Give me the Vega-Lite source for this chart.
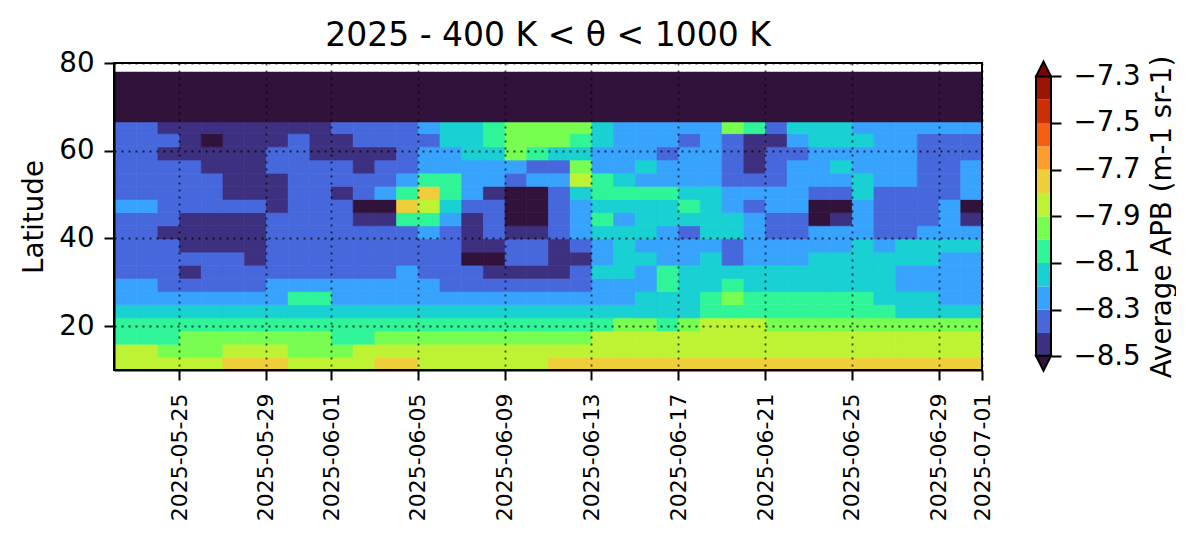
{"$schema":"https://vega.github.io/schema/vega-lite/v6.json","background":"white","padding":{"left":20,"top":20,"right":0,"bottom":0},"spacing":39,
"config":{"font":"DejaVu Sans","view":{"stroke":null},"axis":{"labelFontSize":27.7,"titleFontSize":27.7,"titleFontWeight":"normal","tickSize":10,"tickWidth":2,"tickColor":"black","domainColor":"black","domainWidth":2,"labelColor":"black","titleColor":"black"}},
"hconcat":[
{"width":868,"height":307,"title":{"text":"2025 - 400 K < θ < 1000 K","fontSize":33,"fontWeight":"normal","color":"black","offset":-4},
"layer":[
{"data":{"values":[
{"d":"2025-05-22","l":11.5,"v":-7.85},{"d":"2025-05-23","l":11.5,"v":-7.85},{"d":"2025-05-24","l":11.5,"v":-7.85},{"d":"2025-05-25","l":11.5,"v":-7.85},{"d":"2025-05-26","l":11.5,"v":-7.85},{"d":"2025-05-27","l":11.5,"v":-7.75},{"d":"2025-05-28","l":11.5,"v":-7.75},{"d":"2025-05-29","l":11.5,"v":-7.75},{"d":"2025-05-30","l":11.5,"v":-7.85},{"d":"2025-05-31","l":11.5,"v":-7.85},{"d":"2025-06-01","l":11.5,"v":-7.85},{"d":"2025-06-02","l":11.5,"v":-7.85},{"d":"2025-06-03","l":11.5,"v":-7.75},{"d":"2025-06-04","l":11.5,"v":-7.75},{"d":"2025-06-05","l":11.5,"v":-7.85},{"d":"2025-06-06","l":11.5,"v":-7.85},{"d":"2025-06-07","l":11.5,"v":-7.85},{"d":"2025-06-08","l":11.5,"v":-7.85},{"d":"2025-06-09","l":11.5,"v":-7.85},{"d":"2025-06-10","l":11.5,"v":-7.85},{"d":"2025-06-11","l":11.5,"v":-7.75},{"d":"2025-06-12","l":11.5,"v":-7.75},{"d":"2025-06-13","l":11.5,"v":-7.75},{"d":"2025-06-14","l":11.5,"v":-7.75},{"d":"2025-06-15","l":11.5,"v":-7.75},{"d":"2025-06-16","l":11.5,"v":-7.75},{"d":"2025-06-17","l":11.5,"v":-7.75},{"d":"2025-06-18","l":11.5,"v":-7.75},{"d":"2025-06-19","l":11.5,"v":-7.75},{"d":"2025-06-20","l":11.5,"v":-7.75},{"d":"2025-06-21","l":11.5,"v":-7.75},{"d":"2025-06-22","l":11.5,"v":-7.75},{"d":"2025-06-23","l":11.5,"v":-7.75},{"d":"2025-06-24","l":11.5,"v":-7.75},{"d":"2025-06-25","l":11.5,"v":-7.75},{"d":"2025-06-26","l":11.5,"v":-7.75},{"d":"2025-06-27","l":11.5,"v":-7.75},{"d":"2025-06-28","l":11.5,"v":-7.75},{"d":"2025-06-29","l":11.5,"v":-7.75},{"d":"2025-06-30","l":11.5,"v":-7.75},
{"d":"2025-05-22","l":14.5,"v":-7.85},{"d":"2025-05-23","l":14.5,"v":-7.85},{"d":"2025-05-24","l":14.5,"v":-7.95},{"d":"2025-05-25","l":14.5,"v":-7.95},{"d":"2025-05-26","l":14.5,"v":-7.95},{"d":"2025-05-27","l":14.5,"v":-7.85},{"d":"2025-05-28","l":14.5,"v":-7.85},{"d":"2025-05-29","l":14.5,"v":-7.85},{"d":"2025-05-30","l":14.5,"v":-7.95},{"d":"2025-05-31","l":14.5,"v":-7.95},{"d":"2025-06-01","l":14.5,"v":-7.95},{"d":"2025-06-02","l":14.5,"v":-7.85},{"d":"2025-06-03","l":14.5,"v":-7.85},{"d":"2025-06-04","l":14.5,"v":-7.85},{"d":"2025-06-05","l":14.5,"v":-7.85},{"d":"2025-06-06","l":14.5,"v":-7.85},{"d":"2025-06-07","l":14.5,"v":-7.85},{"d":"2025-06-08","l":14.5,"v":-7.85},{"d":"2025-06-09","l":14.5,"v":-7.85},{"d":"2025-06-10","l":14.5,"v":-7.85},{"d":"2025-06-11","l":14.5,"v":-7.85},{"d":"2025-06-12","l":14.5,"v":-7.85},{"d":"2025-06-13","l":14.5,"v":-7.85},{"d":"2025-06-14","l":14.5,"v":-7.85},{"d":"2025-06-15","l":14.5,"v":-7.85},{"d":"2025-06-16","l":14.5,"v":-7.85},{"d":"2025-06-17","l":14.5,"v":-7.85},{"d":"2025-06-18","l":14.5,"v":-7.85},{"d":"2025-06-19","l":14.5,"v":-7.85},{"d":"2025-06-20","l":14.5,"v":-7.85},{"d":"2025-06-21","l":14.5,"v":-7.85},{"d":"2025-06-22","l":14.5,"v":-7.85},{"d":"2025-06-23","l":14.5,"v":-7.85},{"d":"2025-06-24","l":14.5,"v":-7.85},{"d":"2025-06-25","l":14.5,"v":-7.85},{"d":"2025-06-26","l":14.5,"v":-7.85},{"d":"2025-06-27","l":14.5,"v":-7.85},{"d":"2025-06-28","l":14.5,"v":-7.85},{"d":"2025-06-29","l":14.5,"v":-7.85},{"d":"2025-06-30","l":14.5,"v":-7.85},
{"d":"2025-05-22","l":17.5,"v":-8.05},{"d":"2025-05-23","l":17.5,"v":-8.05},{"d":"2025-05-24","l":17.5,"v":-8.05},{"d":"2025-05-25","l":17.5,"v":-7.95},{"d":"2025-05-26","l":17.5,"v":-7.95},{"d":"2025-05-27","l":17.5,"v":-7.95},{"d":"2025-05-28","l":17.5,"v":-7.95},{"d":"2025-05-29","l":17.5,"v":-7.95},{"d":"2025-05-30","l":17.5,"v":-7.95},{"d":"2025-05-31","l":17.5,"v":-7.95},{"d":"2025-06-01","l":17.5,"v":-8.05},{"d":"2025-06-02","l":17.5,"v":-8.05},{"d":"2025-06-03","l":17.5,"v":-7.95},{"d":"2025-06-04","l":17.5,"v":-7.95},{"d":"2025-06-05","l":17.5,"v":-7.95},{"d":"2025-06-06","l":17.5,"v":-7.95},{"d":"2025-06-07","l":17.5,"v":-7.95},{"d":"2025-06-08","l":17.5,"v":-7.95},{"d":"2025-06-09","l":17.5,"v":-7.95},{"d":"2025-06-10","l":17.5,"v":-7.95},{"d":"2025-06-11","l":17.5,"v":-7.95},{"d":"2025-06-12","l":17.5,"v":-7.95},{"d":"2025-06-13","l":17.5,"v":-7.85},{"d":"2025-06-14","l":17.5,"v":-7.85},{"d":"2025-06-15","l":17.5,"v":-7.85},{"d":"2025-06-16","l":17.5,"v":-7.85},{"d":"2025-06-17","l":17.5,"v":-7.85},{"d":"2025-06-18","l":17.5,"v":-7.85},{"d":"2025-06-19","l":17.5,"v":-7.85},{"d":"2025-06-20","l":17.5,"v":-7.85},{"d":"2025-06-21","l":17.5,"v":-7.85},{"d":"2025-06-22","l":17.5,"v":-7.85},{"d":"2025-06-23","l":17.5,"v":-7.85},{"d":"2025-06-24","l":17.5,"v":-7.85},{"d":"2025-06-25","l":17.5,"v":-7.85},{"d":"2025-06-26","l":17.5,"v":-7.85},{"d":"2025-06-27","l":17.5,"v":-7.85},{"d":"2025-06-28","l":17.5,"v":-7.85},{"d":"2025-06-29","l":17.5,"v":-7.85},{"d":"2025-06-30","l":17.5,"v":-7.85},
{"d":"2025-05-22","l":20.5,"v":-8.05},{"d":"2025-05-23","l":20.5,"v":-8.05},{"d":"2025-05-24","l":20.5,"v":-8.05},{"d":"2025-05-25","l":20.5,"v":-8.05},{"d":"2025-05-26","l":20.5,"v":-8.05},{"d":"2025-05-27","l":20.5,"v":-8.05},{"d":"2025-05-28","l":20.5,"v":-8.05},{"d":"2025-05-29","l":20.5,"v":-8.05},{"d":"2025-05-30","l":20.5,"v":-8.05},{"d":"2025-05-31","l":20.5,"v":-8.05},{"d":"2025-06-01","l":20.5,"v":-8.05},{"d":"2025-06-02","l":20.5,"v":-8.05},{"d":"2025-06-03","l":20.5,"v":-8.05},{"d":"2025-06-04","l":20.5,"v":-8.05},{"d":"2025-06-05","l":20.5,"v":-8.05},{"d":"2025-06-06","l":20.5,"v":-8.05},{"d":"2025-06-07","l":20.5,"v":-8.05},{"d":"2025-06-08","l":20.5,"v":-8.05},{"d":"2025-06-09","l":20.5,"v":-8.05},{"d":"2025-06-10","l":20.5,"v":-8.05},{"d":"2025-06-11","l":20.5,"v":-8.05},{"d":"2025-06-12","l":20.5,"v":-8.05},{"d":"2025-06-13","l":20.5,"v":-8.05},{"d":"2025-06-14","l":20.5,"v":-7.95},{"d":"2025-06-15","l":20.5,"v":-7.95},{"d":"2025-06-16","l":20.5,"v":-8.05},{"d":"2025-06-17","l":20.5,"v":-7.95},{"d":"2025-06-18","l":20.5,"v":-7.85},{"d":"2025-06-19","l":20.5,"v":-7.85},{"d":"2025-06-20","l":20.5,"v":-7.85},{"d":"2025-06-21","l":20.5,"v":-7.95},{"d":"2025-06-22","l":20.5,"v":-7.95},{"d":"2025-06-23","l":20.5,"v":-7.95},{"d":"2025-06-24","l":20.5,"v":-7.95},{"d":"2025-06-25","l":20.5,"v":-7.95},{"d":"2025-06-26","l":20.5,"v":-7.95},{"d":"2025-06-27","l":20.5,"v":-7.95},{"d":"2025-06-28","l":20.5,"v":-7.95},{"d":"2025-06-29","l":20.5,"v":-7.95},{"d":"2025-06-30","l":20.5,"v":-7.95},
{"d":"2025-05-22","l":23.5,"v":-8.15},{"d":"2025-05-23","l":23.5,"v":-8.15},{"d":"2025-05-24","l":23.5,"v":-8.15},{"d":"2025-05-25","l":23.5,"v":-8.15},{"d":"2025-05-26","l":23.5,"v":-8.15},{"d":"2025-05-27","l":23.5,"v":-8.15},{"d":"2025-05-28","l":23.5,"v":-8.15},{"d":"2025-05-29","l":23.5,"v":-8.15},{"d":"2025-05-30","l":23.5,"v":-8.15},{"d":"2025-05-31","l":23.5,"v":-8.15},{"d":"2025-06-01","l":23.5,"v":-8.15},{"d":"2025-06-02","l":23.5,"v":-8.15},{"d":"2025-06-03","l":23.5,"v":-8.15},{"d":"2025-06-04","l":23.5,"v":-8.15},{"d":"2025-06-05","l":23.5,"v":-8.15},{"d":"2025-06-06","l":23.5,"v":-8.15},{"d":"2025-06-07","l":23.5,"v":-8.15},{"d":"2025-06-08","l":23.5,"v":-8.15},{"d":"2025-06-09","l":23.5,"v":-8.15},{"d":"2025-06-10","l":23.5,"v":-8.15},{"d":"2025-06-11","l":23.5,"v":-8.15},{"d":"2025-06-12","l":23.5,"v":-8.15},{"d":"2025-06-13","l":23.5,"v":-8.15},{"d":"2025-06-14","l":23.5,"v":-8.15},{"d":"2025-06-15","l":23.5,"v":-8.15},{"d":"2025-06-16","l":23.5,"v":-8.15},{"d":"2025-06-17","l":23.5,"v":-8.15},{"d":"2025-06-18","l":23.5,"v":-8.05},{"d":"2025-06-19","l":23.5,"v":-8.05},{"d":"2025-06-20","l":23.5,"v":-8.05},{"d":"2025-06-21","l":23.5,"v":-8.05},{"d":"2025-06-22","l":23.5,"v":-8.05},{"d":"2025-06-23","l":23.5,"v":-8.05},{"d":"2025-06-24","l":23.5,"v":-8.05},{"d":"2025-06-25","l":23.5,"v":-8.05},{"d":"2025-06-26","l":23.5,"v":-8.05},{"d":"2025-06-27","l":23.5,"v":-8.15},{"d":"2025-06-28","l":23.5,"v":-8.15},{"d":"2025-06-29","l":23.5,"v":-8.15},{"d":"2025-06-30","l":23.5,"v":-8.15},
{"d":"2025-05-22","l":26.5,"v":-8.25},{"d":"2025-05-23","l":26.5,"v":-8.25},{"d":"2025-05-24","l":26.5,"v":-8.25},{"d":"2025-05-25","l":26.5,"v":-8.25},{"d":"2025-05-26","l":26.5,"v":-8.25},{"d":"2025-05-27","l":26.5,"v":-8.25},{"d":"2025-05-28","l":26.5,"v":-8.25},{"d":"2025-05-29","l":26.5,"v":-8.25},{"d":"2025-05-30","l":26.5,"v":-8.05},{"d":"2025-05-31","l":26.5,"v":-8.05},{"d":"2025-06-01","l":26.5,"v":-8.25},{"d":"2025-06-02","l":26.5,"v":-8.25},{"d":"2025-06-03","l":26.5,"v":-8.25},{"d":"2025-06-04","l":26.5,"v":-8.25},{"d":"2025-06-05","l":26.5,"v":-8.25},{"d":"2025-06-06","l":26.5,"v":-8.25},{"d":"2025-06-07","l":26.5,"v":-8.25},{"d":"2025-06-08","l":26.5,"v":-8.25},{"d":"2025-06-09","l":26.5,"v":-8.25},{"d":"2025-06-10","l":26.5,"v":-8.25},{"d":"2025-06-11","l":26.5,"v":-8.25},{"d":"2025-06-12","l":26.5,"v":-8.25},{"d":"2025-06-13","l":26.5,"v":-8.25},{"d":"2025-06-14","l":26.5,"v":-8.25},{"d":"2025-06-15","l":26.5,"v":-8.15},{"d":"2025-06-16","l":26.5,"v":-8.15},{"d":"2025-06-17","l":26.5,"v":-8.15},{"d":"2025-06-18","l":26.5,"v":-8.05},{"d":"2025-06-19","l":26.5,"v":-7.95},{"d":"2025-06-20","l":26.5,"v":-8.05},{"d":"2025-06-21","l":26.5,"v":-8.05},{"d":"2025-06-22","l":26.5,"v":-8.05},{"d":"2025-06-23","l":26.5,"v":-8.05},{"d":"2025-06-24","l":26.5,"v":-8.05},{"d":"2025-06-25","l":26.5,"v":-8.05},{"d":"2025-06-26","l":26.5,"v":-8.15},{"d":"2025-06-27","l":26.5,"v":-8.15},{"d":"2025-06-28","l":26.5,"v":-8.15},{"d":"2025-06-29","l":26.5,"v":-8.25},{"d":"2025-06-30","l":26.5,"v":-8.25},
{"d":"2025-05-22","l":29.5,"v":-8.25},{"d":"2025-05-23","l":29.5,"v":-8.25},{"d":"2025-05-24","l":29.5,"v":-8.35},{"d":"2025-05-25","l":29.5,"v":-8.35},{"d":"2025-05-26","l":29.5,"v":-8.35},{"d":"2025-05-27","l":29.5,"v":-8.35},{"d":"2025-05-28","l":29.5,"v":-8.35},{"d":"2025-05-29","l":29.5,"v":-8.25},{"d":"2025-05-30","l":29.5,"v":-8.25},{"d":"2025-05-31","l":29.5,"v":-8.25},{"d":"2025-06-01","l":29.5,"v":-8.25},{"d":"2025-06-02","l":29.5,"v":-8.25},{"d":"2025-06-03","l":29.5,"v":-8.25},{"d":"2025-06-04","l":29.5,"v":-8.25},{"d":"2025-06-05","l":29.5,"v":-8.25},{"d":"2025-06-06","l":29.5,"v":-8.35},{"d":"2025-06-07","l":29.5,"v":-8.35},{"d":"2025-06-08","l":29.5,"v":-8.35},{"d":"2025-06-09","l":29.5,"v":-8.35},{"d":"2025-06-10","l":29.5,"v":-8.35},{"d":"2025-06-11","l":29.5,"v":-8.35},{"d":"2025-06-12","l":29.5,"v":-8.35},{"d":"2025-06-13","l":29.5,"v":-8.25},{"d":"2025-06-14","l":29.5,"v":-8.25},{"d":"2025-06-15","l":29.5,"v":-8.25},{"d":"2025-06-16","l":29.5,"v":-8.05},{"d":"2025-06-17","l":29.5,"v":-8.15},{"d":"2025-06-18","l":29.5,"v":-8.15},{"d":"2025-06-19","l":29.5,"v":-8.05},{"d":"2025-06-20","l":29.5,"v":-8.15},{"d":"2025-06-21","l":29.5,"v":-8.15},{"d":"2025-06-22","l":29.5,"v":-8.15},{"d":"2025-06-23","l":29.5,"v":-8.15},{"d":"2025-06-24","l":29.5,"v":-8.15},{"d":"2025-06-25","l":29.5,"v":-8.15},{"d":"2025-06-26","l":29.5,"v":-8.15},{"d":"2025-06-27","l":29.5,"v":-8.25},{"d":"2025-06-28","l":29.5,"v":-8.25},{"d":"2025-06-29","l":29.5,"v":-8.25},{"d":"2025-06-30","l":29.5,"v":-8.25},
{"d":"2025-05-22","l":32.5,"v":-8.35},{"d":"2025-05-23","l":32.5,"v":-8.35},{"d":"2025-05-24","l":32.5,"v":-8.35},{"d":"2025-05-25","l":32.5,"v":-8.45},{"d":"2025-05-26","l":32.5,"v":-8.35},{"d":"2025-05-27","l":32.5,"v":-8.35},{"d":"2025-05-28","l":32.5,"v":-8.35},{"d":"2025-05-29","l":32.5,"v":-8.35},{"d":"2025-05-30","l":32.5,"v":-8.35},{"d":"2025-05-31","l":32.5,"v":-8.35},{"d":"2025-06-01","l":32.5,"v":-8.35},{"d":"2025-06-02","l":32.5,"v":-8.35},{"d":"2025-06-03","l":32.5,"v":-8.35},{"d":"2025-06-04","l":32.5,"v":-8.25},{"d":"2025-06-05","l":32.5,"v":-8.35},{"d":"2025-06-06","l":32.5,"v":-8.35},{"d":"2025-06-07","l":32.5,"v":-8.35},{"d":"2025-06-08","l":32.5,"v":-8.45},{"d":"2025-06-09","l":32.5,"v":-8.45},{"d":"2025-06-10","l":32.5,"v":-8.45},{"d":"2025-06-11","l":32.5,"v":-8.45},{"d":"2025-06-12","l":32.5,"v":-8.35},{"d":"2025-06-13","l":32.5,"v":-8.15},{"d":"2025-06-14","l":32.5,"v":-8.15},{"d":"2025-06-15","l":32.5,"v":-8.25},{"d":"2025-06-16","l":32.5,"v":-8.05},{"d":"2025-06-17","l":32.5,"v":-8.15},{"d":"2025-06-18","l":32.5,"v":-8.15},{"d":"2025-06-19","l":32.5,"v":-8.15},{"d":"2025-06-20","l":32.5,"v":-8.15},{"d":"2025-06-21","l":32.5,"v":-8.15},{"d":"2025-06-22","l":32.5,"v":-8.15},{"d":"2025-06-23","l":32.5,"v":-8.15},{"d":"2025-06-24","l":32.5,"v":-8.15},{"d":"2025-06-25","l":32.5,"v":-8.15},{"d":"2025-06-26","l":32.5,"v":-8.15},{"d":"2025-06-27","l":32.5,"v":-8.25},{"d":"2025-06-28","l":32.5,"v":-8.25},{"d":"2025-06-29","l":32.5,"v":-8.25},{"d":"2025-06-30","l":32.5,"v":-8.25},
{"d":"2025-05-22","l":35.5,"v":-8.35},{"d":"2025-05-23","l":35.5,"v":-8.35},{"d":"2025-05-24","l":35.5,"v":-8.35},{"d":"2025-05-25","l":35.5,"v":-8.35},{"d":"2025-05-26","l":35.5,"v":-8.35},{"d":"2025-05-27","l":35.5,"v":-8.35},{"d":"2025-05-28","l":35.5,"v":-8.45},{"d":"2025-05-29","l":35.5,"v":-8.35},{"d":"2025-05-30","l":35.5,"v":-8.35},{"d":"2025-05-31","l":35.5,"v":-8.35},{"d":"2025-06-01","l":35.5,"v":-8.35},{"d":"2025-06-02","l":35.5,"v":-8.35},{"d":"2025-06-03","l":35.5,"v":-8.35},{"d":"2025-06-04","l":35.5,"v":-8.35},{"d":"2025-06-05","l":35.5,"v":-8.35},{"d":"2025-06-06","l":35.5,"v":-8.35},{"d":"2025-06-07","l":35.5,"v":-8.55},{"d":"2025-06-08","l":35.5,"v":-8.55},{"d":"2025-06-09","l":35.5,"v":-8.35},{"d":"2025-06-10","l":35.5,"v":-8.35},{"d":"2025-06-11","l":35.5,"v":-8.45},{"d":"2025-06-12","l":35.5,"v":-8.45},{"d":"2025-06-13","l":35.5,"v":-8.25},{"d":"2025-06-14","l":35.5,"v":-8.15},{"d":"2025-06-15","l":35.5,"v":-8.15},{"d":"2025-06-16","l":35.5,"v":-8.25},{"d":"2025-06-17","l":35.5,"v":-8.25},{"d":"2025-06-18","l":35.5,"v":-8.15},{"d":"2025-06-19","l":35.5,"v":-8.35},{"d":"2025-06-20","l":35.5,"v":-8.25},{"d":"2025-06-21","l":35.5,"v":-8.25},{"d":"2025-06-22","l":35.5,"v":-8.25},{"d":"2025-06-23","l":35.5,"v":-8.15},{"d":"2025-06-24","l":35.5,"v":-8.15},{"d":"2025-06-25","l":35.5,"v":-8.15},{"d":"2025-06-26","l":35.5,"v":-8.15},{"d":"2025-06-27","l":35.5,"v":-8.15},{"d":"2025-06-28","l":35.5,"v":-8.15},{"d":"2025-06-29","l":35.5,"v":-8.25},{"d":"2025-06-30","l":35.5,"v":-8.25},
{"d":"2025-05-22","l":38.5,"v":-8.35},{"d":"2025-05-23","l":38.5,"v":-8.35},{"d":"2025-05-24","l":38.5,"v":-8.35},{"d":"2025-05-25","l":38.5,"v":-8.45},{"d":"2025-05-26","l":38.5,"v":-8.45},{"d":"2025-05-27","l":38.5,"v":-8.45},{"d":"2025-05-28","l":38.5,"v":-8.45},{"d":"2025-05-29","l":38.5,"v":-8.35},{"d":"2025-05-30","l":38.5,"v":-8.35},{"d":"2025-05-31","l":38.5,"v":-8.35},{"d":"2025-06-01","l":38.5,"v":-8.35},{"d":"2025-06-02","l":38.5,"v":-8.35},{"d":"2025-06-03","l":38.5,"v":-8.35},{"d":"2025-06-04","l":38.5,"v":-8.35},{"d":"2025-06-05","l":38.5,"v":-8.35},{"d":"2025-06-06","l":38.5,"v":-8.35},{"d":"2025-06-07","l":38.5,"v":-8.45},{"d":"2025-06-08","l":38.5,"v":-8.45},{"d":"2025-06-09","l":38.5,"v":-8.35},{"d":"2025-06-10","l":38.5,"v":-8.35},{"d":"2025-06-11","l":38.5,"v":-8.45},{"d":"2025-06-12","l":38.5,"v":-8.35},{"d":"2025-06-13","l":38.5,"v":-8.25},{"d":"2025-06-14","l":38.5,"v":-8.15},{"d":"2025-06-15","l":38.5,"v":-8.25},{"d":"2025-06-16","l":38.5,"v":-8.25},{"d":"2025-06-17","l":38.5,"v":-8.25},{"d":"2025-06-18","l":38.5,"v":-8.25},{"d":"2025-06-19","l":38.5,"v":-8.35},{"d":"2025-06-20","l":38.5,"v":-8.25},{"d":"2025-06-21","l":38.5,"v":-8.25},{"d":"2025-06-22","l":38.5,"v":-8.25},{"d":"2025-06-23","l":38.5,"v":-8.25},{"d":"2025-06-24","l":38.5,"v":-8.25},{"d":"2025-06-25","l":38.5,"v":-8.15},{"d":"2025-06-26","l":38.5,"v":-8.25},{"d":"2025-06-27","l":38.5,"v":-8.15},{"d":"2025-06-28","l":38.5,"v":-8.15},{"d":"2025-06-29","l":38.5,"v":-8.15},{"d":"2025-06-30","l":38.5,"v":-8.15},
{"d":"2025-05-22","l":41.5,"v":-8.35},{"d":"2025-05-23","l":41.5,"v":-8.35},{"d":"2025-05-24","l":41.5,"v":-8.45},{"d":"2025-05-25","l":41.5,"v":-8.45},{"d":"2025-05-26","l":41.5,"v":-8.45},{"d":"2025-05-27","l":41.5,"v":-8.45},{"d":"2025-05-28","l":41.5,"v":-8.45},{"d":"2025-05-29","l":41.5,"v":-8.35},{"d":"2025-05-30","l":41.5,"v":-8.35},{"d":"2025-05-31","l":41.5,"v":-8.35},{"d":"2025-06-01","l":41.5,"v":-8.35},{"d":"2025-06-02","l":41.5,"v":-8.35},{"d":"2025-06-03","l":41.5,"v":-8.35},{"d":"2025-06-04","l":41.5,"v":-8.35},{"d":"2025-06-05","l":41.5,"v":-8.25},{"d":"2025-06-06","l":41.5,"v":-8.35},{"d":"2025-06-07","l":41.5,"v":-8.45},{"d":"2025-06-08","l":41.5,"v":-8.35},{"d":"2025-06-09","l":41.5,"v":-8.45},{"d":"2025-06-10","l":41.5,"v":-8.45},{"d":"2025-06-11","l":41.5,"v":-8.35},{"d":"2025-06-12","l":41.5,"v":-8.25},{"d":"2025-06-13","l":41.5,"v":-8.15},{"d":"2025-06-14","l":41.5,"v":-8.15},{"d":"2025-06-15","l":41.5,"v":-8.15},{"d":"2025-06-16","l":41.5,"v":-8.25},{"d":"2025-06-17","l":41.5,"v":-8.35},{"d":"2025-06-18","l":41.5,"v":-8.15},{"d":"2025-06-19","l":41.5,"v":-8.15},{"d":"2025-06-20","l":41.5,"v":-8.25},{"d":"2025-06-21","l":41.5,"v":-8.35},{"d":"2025-06-22","l":41.5,"v":-8.35},{"d":"2025-06-23","l":41.5,"v":-8.25},{"d":"2025-06-24","l":41.5,"v":-8.25},{"d":"2025-06-25","l":41.5,"v":-8.25},{"d":"2025-06-26","l":41.5,"v":-8.35},{"d":"2025-06-27","l":41.5,"v":-8.35},{"d":"2025-06-28","l":41.5,"v":-8.25},{"d":"2025-06-29","l":41.5,"v":-8.25},{"d":"2025-06-30","l":41.5,"v":-8.25},
{"d":"2025-05-22","l":44.5,"v":-8.35},{"d":"2025-05-23","l":44.5,"v":-8.35},{"d":"2025-05-24","l":44.5,"v":-8.35},{"d":"2025-05-25","l":44.5,"v":-8.45},{"d":"2025-05-26","l":44.5,"v":-8.45},{"d":"2025-05-27","l":44.5,"v":-8.45},{"d":"2025-05-28","l":44.5,"v":-8.45},{"d":"2025-05-29","l":44.5,"v":-8.35},{"d":"2025-05-30","l":44.5,"v":-8.35},{"d":"2025-05-31","l":44.5,"v":-8.35},{"d":"2025-06-01","l":44.5,"v":-8.35},{"d":"2025-06-02","l":44.5,"v":-8.45},{"d":"2025-06-03","l":44.5,"v":-8.45},{"d":"2025-06-04","l":44.5,"v":-8.05},{"d":"2025-06-05","l":44.5,"v":-8.05},{"d":"2025-06-06","l":44.5,"v":-8.25},{"d":"2025-06-07","l":44.5,"v":-8.45},{"d":"2025-06-08","l":44.5,"v":-8.35},{"d":"2025-06-09","l":44.5,"v":-8.55},{"d":"2025-06-10","l":44.5,"v":-8.55},{"d":"2025-06-11","l":44.5,"v":-8.35},{"d":"2025-06-12","l":44.5,"v":-8.25},{"d":"2025-06-13","l":44.5,"v":-8.05},{"d":"2025-06-14","l":44.5,"v":-8.25},{"d":"2025-06-15","l":44.5,"v":-8.15},{"d":"2025-06-16","l":44.5,"v":-8.15},{"d":"2025-06-17","l":44.5,"v":-8.15},{"d":"2025-06-18","l":44.5,"v":-8.15},{"d":"2025-06-19","l":44.5,"v":-8.15},{"d":"2025-06-20","l":44.5,"v":-8.25},{"d":"2025-06-21","l":44.5,"v":-8.35},{"d":"2025-06-22","l":44.5,"v":-8.35},{"d":"2025-06-23","l":44.5,"v":-8.55},{"d":"2025-06-24","l":44.5,"v":-8.45},{"d":"2025-06-25","l":44.5,"v":-8.25},{"d":"2025-06-26","l":44.5,"v":-8.35},{"d":"2025-06-27","l":44.5,"v":-8.35},{"d":"2025-06-28","l":44.5,"v":-8.35},{"d":"2025-06-29","l":44.5,"v":-8.25},{"d":"2025-06-30","l":44.5,"v":-8.45},
{"d":"2025-05-22","l":47.5,"v":-8.25},{"d":"2025-05-23","l":47.5,"v":-8.25},{"d":"2025-05-24","l":47.5,"v":-8.35},{"d":"2025-05-25","l":47.5,"v":-8.35},{"d":"2025-05-26","l":47.5,"v":-8.35},{"d":"2025-05-27","l":47.5,"v":-8.35},{"d":"2025-05-28","l":47.5,"v":-8.35},{"d":"2025-05-29","l":47.5,"v":-8.45},{"d":"2025-05-30","l":47.5,"v":-8.35},{"d":"2025-05-31","l":47.5,"v":-8.35},{"d":"2025-06-01","l":47.5,"v":-8.35},{"d":"2025-06-02","l":47.5,"v":-8.55},{"d":"2025-06-03","l":47.5,"v":-8.55},{"d":"2025-06-04","l":47.5,"v":-7.75},{"d":"2025-06-05","l":47.5,"v":-7.85},{"d":"2025-06-06","l":47.5,"v":-8.15},{"d":"2025-06-07","l":47.5,"v":-8.35},{"d":"2025-06-08","l":47.5,"v":-8.35},{"d":"2025-06-09","l":47.5,"v":-8.55},{"d":"2025-06-10","l":47.5,"v":-8.55},{"d":"2025-06-11","l":47.5,"v":-8.35},{"d":"2025-06-12","l":47.5,"v":-8.25},{"d":"2025-06-13","l":47.5,"v":-8.15},{"d":"2025-06-14","l":47.5,"v":-8.15},{"d":"2025-06-15","l":47.5,"v":-8.15},{"d":"2025-06-16","l":47.5,"v":-8.15},{"d":"2025-06-17","l":47.5,"v":-8.05},{"d":"2025-06-18","l":47.5,"v":-8.15},{"d":"2025-06-19","l":47.5,"v":-8.25},{"d":"2025-06-20","l":47.5,"v":-8.35},{"d":"2025-06-21","l":47.5,"v":-8.25},{"d":"2025-06-22","l":47.5,"v":-8.25},{"d":"2025-06-23","l":47.5,"v":-8.55},{"d":"2025-06-24","l":47.5,"v":-8.55},{"d":"2025-06-25","l":47.5,"v":-8.25},{"d":"2025-06-26","l":47.5,"v":-8.35},{"d":"2025-06-27","l":47.5,"v":-8.35},{"d":"2025-06-28","l":47.5,"v":-8.35},{"d":"2025-06-29","l":47.5,"v":-8.25},{"d":"2025-06-30","l":47.5,"v":-8.55},
{"d":"2025-05-22","l":50.5,"v":-8.35},{"d":"2025-05-23","l":50.5,"v":-8.35},{"d":"2025-05-24","l":50.5,"v":-8.35},{"d":"2025-05-25","l":50.5,"v":-8.35},{"d":"2025-05-26","l":50.5,"v":-8.35},{"d":"2025-05-27","l":50.5,"v":-8.45},{"d":"2025-05-28","l":50.5,"v":-8.45},{"d":"2025-05-29","l":50.5,"v":-8.45},{"d":"2025-05-30","l":50.5,"v":-8.35},{"d":"2025-05-31","l":50.5,"v":-8.35},{"d":"2025-06-01","l":50.5,"v":-8.45},{"d":"2025-06-02","l":50.5,"v":-8.35},{"d":"2025-06-03","l":50.5,"v":-8.25},{"d":"2025-06-04","l":50.5,"v":-8.05},{"d":"2025-06-05","l":50.5,"v":-7.75},{"d":"2025-06-06","l":50.5,"v":-8.05},{"d":"2025-06-07","l":50.5,"v":-8.25},{"d":"2025-06-08","l":50.5,"v":-8.45},{"d":"2025-06-09","l":50.5,"v":-8.55},{"d":"2025-06-10","l":50.5,"v":-8.55},{"d":"2025-06-11","l":50.5,"v":-8.35},{"d":"2025-06-12","l":50.5,"v":-8.15},{"d":"2025-06-13","l":50.5,"v":-8.05},{"d":"2025-06-14","l":50.5,"v":-8.05},{"d":"2025-06-15","l":50.5,"v":-8.05},{"d":"2025-06-16","l":50.5,"v":-8.05},{"d":"2025-06-17","l":50.5,"v":-8.15},{"d":"2025-06-18","l":50.5,"v":-8.15},{"d":"2025-06-19","l":50.5,"v":-8.25},{"d":"2025-06-20","l":50.5,"v":-8.25},{"d":"2025-06-21","l":50.5,"v":-8.25},{"d":"2025-06-22","l":50.5,"v":-8.25},{"d":"2025-06-23","l":50.5,"v":-8.35},{"d":"2025-06-24","l":50.5,"v":-8.35},{"d":"2025-06-25","l":50.5,"v":-8.15},{"d":"2025-06-26","l":50.5,"v":-8.35},{"d":"2025-06-27","l":50.5,"v":-8.35},{"d":"2025-06-28","l":50.5,"v":-8.35},{"d":"2025-06-29","l":50.5,"v":-8.35},{"d":"2025-06-30","l":50.5,"v":-8.25},
{"d":"2025-05-22","l":53.5,"v":-8.35},{"d":"2025-05-23","l":53.5,"v":-8.35},{"d":"2025-05-24","l":53.5,"v":-8.35},{"d":"2025-05-25","l":53.5,"v":-8.35},{"d":"2025-05-26","l":53.5,"v":-8.35},{"d":"2025-05-27","l":53.5,"v":-8.45},{"d":"2025-05-28","l":53.5,"v":-8.45},{"d":"2025-05-29","l":53.5,"v":-8.45},{"d":"2025-05-30","l":53.5,"v":-8.35},{"d":"2025-05-31","l":53.5,"v":-8.35},{"d":"2025-06-01","l":53.5,"v":-8.35},{"d":"2025-06-02","l":53.5,"v":-8.35},{"d":"2025-06-03","l":53.5,"v":-8.35},{"d":"2025-06-04","l":53.5,"v":-8.25},{"d":"2025-06-05","l":53.5,"v":-8.05},{"d":"2025-06-06","l":53.5,"v":-8.05},{"d":"2025-06-07","l":53.5,"v":-8.25},{"d":"2025-06-08","l":53.5,"v":-8.25},{"d":"2025-06-09","l":53.5,"v":-8.35},{"d":"2025-06-10","l":53.5,"v":-8.25},{"d":"2025-06-11","l":53.5,"v":-8.25},{"d":"2025-06-12","l":53.5,"v":-7.85},{"d":"2025-06-13","l":53.5,"v":-8.05},{"d":"2025-06-14","l":53.5,"v":-8.15},{"d":"2025-06-15","l":53.5,"v":-8.25},{"d":"2025-06-16","l":53.5,"v":-8.25},{"d":"2025-06-17","l":53.5,"v":-8.25},{"d":"2025-06-18","l":53.5,"v":-8.25},{"d":"2025-06-19","l":53.5,"v":-8.35},{"d":"2025-06-20","l":53.5,"v":-8.35},{"d":"2025-06-21","l":53.5,"v":-8.35},{"d":"2025-06-22","l":53.5,"v":-8.25},{"d":"2025-06-23","l":53.5,"v":-8.25},{"d":"2025-06-24","l":53.5,"v":-8.25},{"d":"2025-06-25","l":53.5,"v":-8.15},{"d":"2025-06-26","l":53.5,"v":-8.25},{"d":"2025-06-27","l":53.5,"v":-8.25},{"d":"2025-06-28","l":53.5,"v":-8.35},{"d":"2025-06-29","l":53.5,"v":-8.35},{"d":"2025-06-30","l":53.5,"v":-8.25},
{"d":"2025-05-22","l":56.5,"v":-8.35},{"d":"2025-05-23","l":56.5,"v":-8.35},{"d":"2025-05-24","l":56.5,"v":-8.35},{"d":"2025-05-25","l":56.5,"v":-8.35},{"d":"2025-05-26","l":56.5,"v":-8.45},{"d":"2025-05-27","l":56.5,"v":-8.45},{"d":"2025-05-28","l":56.5,"v":-8.45},{"d":"2025-05-29","l":56.5,"v":-8.35},{"d":"2025-05-30","l":56.5,"v":-8.35},{"d":"2025-05-31","l":56.5,"v":-8.35},{"d":"2025-06-01","l":56.5,"v":-8.35},{"d":"2025-06-02","l":56.5,"v":-8.45},{"d":"2025-06-03","l":56.5,"v":-8.35},{"d":"2025-06-04","l":56.5,"v":-8.35},{"d":"2025-06-05","l":56.5,"v":-8.25},{"d":"2025-06-06","l":56.5,"v":-8.25},{"d":"2025-06-07","l":56.5,"v":-8.25},{"d":"2025-06-08","l":56.5,"v":-8.25},{"d":"2025-06-09","l":56.5,"v":-8.25},{"d":"2025-06-10","l":56.5,"v":-8.35},{"d":"2025-06-11","l":56.5,"v":-8.35},{"d":"2025-06-12","l":56.5,"v":-7.95},{"d":"2025-06-13","l":56.5,"v":-8.25},{"d":"2025-06-14","l":56.5,"v":-8.25},{"d":"2025-06-15","l":56.5,"v":-8.15},{"d":"2025-06-16","l":56.5,"v":-8.25},{"d":"2025-06-17","l":56.5,"v":-8.25},{"d":"2025-06-18","l":56.5,"v":-8.25},{"d":"2025-06-19","l":56.5,"v":-8.35},{"d":"2025-06-20","l":56.5,"v":-8.45},{"d":"2025-06-21","l":56.5,"v":-8.35},{"d":"2025-06-22","l":56.5,"v":-8.25},{"d":"2025-06-23","l":56.5,"v":-8.25},{"d":"2025-06-24","l":56.5,"v":-8.15},{"d":"2025-06-25","l":56.5,"v":-8.25},{"d":"2025-06-26","l":56.5,"v":-8.25},{"d":"2025-06-27","l":56.5,"v":-8.25},{"d":"2025-06-28","l":56.5,"v":-8.35},{"d":"2025-06-29","l":56.5,"v":-8.35},{"d":"2025-06-30","l":56.5,"v":-8.25},
{"d":"2025-05-22","l":59.5,"v":-8.35},{"d":"2025-05-23","l":59.5,"v":-8.35},{"d":"2025-05-24","l":59.5,"v":-8.45},{"d":"2025-05-25","l":59.5,"v":-8.45},{"d":"2025-05-26","l":59.5,"v":-8.45},{"d":"2025-05-27","l":59.5,"v":-8.45},{"d":"2025-05-28","l":59.5,"v":-8.45},{"d":"2025-05-29","l":59.5,"v":-8.35},{"d":"2025-05-30","l":59.5,"v":-8.35},{"d":"2025-05-31","l":59.5,"v":-8.45},{"d":"2025-06-01","l":59.5,"v":-8.45},{"d":"2025-06-02","l":59.5,"v":-8.45},{"d":"2025-06-03","l":59.5,"v":-8.45},{"d":"2025-06-04","l":59.5,"v":-8.35},{"d":"2025-06-05","l":59.5,"v":-8.25},{"d":"2025-06-06","l":59.5,"v":-8.25},{"d":"2025-06-07","l":59.5,"v":-8.15},{"d":"2025-06-08","l":59.5,"v":-8.15},{"d":"2025-06-09","l":59.5,"v":-7.95},{"d":"2025-06-10","l":59.5,"v":-8.05},{"d":"2025-06-11","l":59.5,"v":-8.15},{"d":"2025-06-12","l":59.5,"v":-8.15},{"d":"2025-06-13","l":59.5,"v":-8.25},{"d":"2025-06-14","l":59.5,"v":-8.25},{"d":"2025-06-15","l":59.5,"v":-8.25},{"d":"2025-06-16","l":59.5,"v":-8.35},{"d":"2025-06-17","l":59.5,"v":-8.25},{"d":"2025-06-18","l":59.5,"v":-8.25},{"d":"2025-06-19","l":59.5,"v":-8.35},{"d":"2025-06-20","l":59.5,"v":-8.45},{"d":"2025-06-21","l":59.5,"v":-8.35},{"d":"2025-06-22","l":59.5,"v":-8.35},{"d":"2025-06-23","l":59.5,"v":-8.25},{"d":"2025-06-24","l":59.5,"v":-8.25},{"d":"2025-06-25","l":59.5,"v":-8.25},{"d":"2025-06-26","l":59.5,"v":-8.25},{"d":"2025-06-27","l":59.5,"v":-8.25},{"d":"2025-06-28","l":59.5,"v":-8.35},{"d":"2025-06-29","l":59.5,"v":-8.35},{"d":"2025-06-30","l":59.5,"v":-8.35},
{"d":"2025-05-22","l":62.5,"v":-8.35},{"d":"2025-05-23","l":62.5,"v":-8.35},{"d":"2025-05-24","l":62.5,"v":-8.35},{"d":"2025-05-25","l":62.5,"v":-8.45},{"d":"2025-05-26","l":62.5,"v":-8.55},{"d":"2025-05-27","l":62.5,"v":-8.45},{"d":"2025-05-28","l":62.5,"v":-8.45},{"d":"2025-05-29","l":62.5,"v":-8.45},{"d":"2025-05-30","l":62.5,"v":-8.35},{"d":"2025-05-31","l":62.5,"v":-8.45},{"d":"2025-06-01","l":62.5,"v":-8.45},{"d":"2025-06-02","l":62.5,"v":-8.35},{"d":"2025-06-03","l":62.5,"v":-8.35},{"d":"2025-06-04","l":62.5,"v":-8.35},{"d":"2025-06-05","l":62.5,"v":-8.35},{"d":"2025-06-06","l":62.5,"v":-8.15},{"d":"2025-06-07","l":62.5,"v":-8.15},{"d":"2025-06-08","l":62.5,"v":-8.05},{"d":"2025-06-09","l":62.5,"v":-7.95},{"d":"2025-06-10","l":62.5,"v":-7.95},{"d":"2025-06-11","l":62.5,"v":-7.95},{"d":"2025-06-12","l":62.5,"v":-8.05},{"d":"2025-06-13","l":62.5,"v":-8.15},{"d":"2025-06-14","l":62.5,"v":-8.25},{"d":"2025-06-15","l":62.5,"v":-8.25},{"d":"2025-06-16","l":62.5,"v":-8.25},{"d":"2025-06-17","l":62.5,"v":-8.35},{"d":"2025-06-18","l":62.5,"v":-8.25},{"d":"2025-06-19","l":62.5,"v":-8.35},{"d":"2025-06-20","l":62.5,"v":-8.45},{"d":"2025-06-21","l":62.5,"v":-8.45},{"d":"2025-06-22","l":62.5,"v":-8.25},{"d":"2025-06-23","l":62.5,"v":-8.15},{"d":"2025-06-24","l":62.5,"v":-8.15},{"d":"2025-06-25","l":62.5,"v":-8.15},{"d":"2025-06-26","l":62.5,"v":-8.25},{"d":"2025-06-27","l":62.5,"v":-8.25},{"d":"2025-06-28","l":62.5,"v":-8.35},{"d":"2025-06-29","l":62.5,"v":-8.35},{"d":"2025-06-30","l":62.5,"v":-8.35},
{"d":"2025-05-22","l":65.5,"v":-8.35},{"d":"2025-05-23","l":65.5,"v":-8.35},{"d":"2025-05-24","l":65.5,"v":-8.45},{"d":"2025-05-25","l":65.5,"v":-8.45},{"d":"2025-05-26","l":65.5,"v":-8.45},{"d":"2025-05-27","l":65.5,"v":-8.45},{"d":"2025-05-28","l":65.5,"v":-8.45},{"d":"2025-05-29","l":65.5,"v":-8.45},{"d":"2025-05-30","l":65.5,"v":-8.45},{"d":"2025-05-31","l":65.5,"v":-8.45},{"d":"2025-06-01","l":65.5,"v":-8.35},{"d":"2025-06-02","l":65.5,"v":-8.35},{"d":"2025-06-03","l":65.5,"v":-8.35},{"d":"2025-06-04","l":65.5,"v":-8.35},{"d":"2025-06-05","l":65.5,"v":-8.25},{"d":"2025-06-06","l":65.5,"v":-8.15},{"d":"2025-06-07","l":65.5,"v":-8.15},{"d":"2025-06-08","l":65.5,"v":-8.05},{"d":"2025-06-09","l":65.5,"v":-7.95},{"d":"2025-06-10","l":65.5,"v":-7.95},{"d":"2025-06-11","l":65.5,"v":-7.95},{"d":"2025-06-12","l":65.5,"v":-7.95},{"d":"2025-06-13","l":65.5,"v":-8.15},{"d":"2025-06-14","l":65.5,"v":-8.25},{"d":"2025-06-15","l":65.5,"v":-8.25},{"d":"2025-06-16","l":65.5,"v":-8.25},{"d":"2025-06-17","l":65.5,"v":-8.25},{"d":"2025-06-18","l":65.5,"v":-8.25},{"d":"2025-06-19","l":65.5,"v":-7.95},{"d":"2025-06-20","l":65.5,"v":-8.05},{"d":"2025-06-21","l":65.5,"v":-8.35},{"d":"2025-06-22","l":65.5,"v":-8.15},{"d":"2025-06-23","l":65.5,"v":-8.15},{"d":"2025-06-24","l":65.5,"v":-8.15},{"d":"2025-06-25","l":65.5,"v":-8.25},{"d":"2025-06-26","l":65.5,"v":-8.25},{"d":"2025-06-27","l":65.5,"v":-8.25},{"d":"2025-06-28","l":65.5,"v":-8.25},{"d":"2025-06-29","l":65.5,"v":-8.25},{"d":"2025-06-30","l":65.5,"v":-8.25}
]},
"mark":{"type":"rect","strokeWidth":0.7},
"encoding":{
"x":{"field":"d","type":"temporal","timeUnit":"utcyearmonthdate","title":null,"scale":{"type":"utc","domain":["2025-05-22","2025-07-01"]},
"axis":{"values":["2025-05-25","2025-05-29","2025-06-01","2025-06-05","2025-06-09","2025-06-13","2025-06-17","2025-06-21","2025-06-25","2025-06-29","2025-07-01"],"format":"%Y-%m-%d","labelAngle":-90,"labelAlign":"right","labelBaseline":"middle","labelFontSize":22,"labelPadding":13,"labelOverlap":false,"grid":true,"gridColor":"black","gridOpacity":0.7,"gridWidth":1.8,"gridDash":[2,5],"zindex":1}},
"y":{"field":"l","type":"quantitative","bin":{"step":3,"extent":[10,67],"nice":false},"title":"Latitude","scale":{"domain":[10,80],"nice":false},
"axis":{"values":[20,40,60,80],"format":"d","grid":true,"gridColor":"black","gridOpacity":0.7,"gridWidth":1.8,"gridDash":[2,5],"zindex":1,"labelPadding":10,"titlePadding":10}},
"color":{"field":"v","type":"quantitative","legend":null,"scale":{"type":"threshold","domain":[-8.5,-8.4,-8.3,-8.2,-8.1,-8.0,-7.9,-7.8,-7.7,-7.6,-7.5,-7.4,-7.3],"range":["#30123b","#3d3080","#4668dc","#38a3fd","#19d0d2","#2ff598","#78fe50","#bef334","#eecf3a","#fd9d2e","#f55f14","#cc2f04","#9b1501","#7a0403"]}},
"stroke":{"field":"v","type":"quantitative","legend":null,"scale":{"type":"threshold","domain":[-8.5,-8.4,-8.3,-8.2,-8.1,-8.0,-7.9,-7.8,-7.7,-7.6,-7.5,-7.4,-7.3],"range":["#30123b","#3d3080","#4668dc","#38a3fd","#19d0d2","#2ff598","#78fe50","#bef334","#eecf3a","#fd9d2e","#f55f14","#cc2f04","#9b1501","#7a0403"]}}
}},
{"data":{"values":[{"start":"2025-05-22","end":"2025-07-01","l":66.5,"h":78,"v":-8.6}]},
"mark":{"type":"rect"},
"encoding":{
"x":{"field":"start","type":"temporal","title":null,"scale":{"type":"utc"}},"x2":{"field":"end"},
"y":{"field":"l","type":"quantitative","title":"Latitude"},"y2":{"field":"h"},
"color":{"field":"v","type":"quantitative","legend":null,"scale":{"type":"threshold","domain":[-8.5,-8.4,-8.3,-8.2,-8.1,-8.0,-7.9,-7.8,-7.7,-7.6,-7.5,-7.4,-7.3],"range":["#30123b","#3d3080","#4668dc","#38a3fd","#19d0d2","#2ff598","#78fe50","#bef334","#eecf3a","#fd9d2e","#f55f14","#cc2f04","#9b1501","#7a0403"]}}
}},
{"data":{"values":[{"start":"2025-05-22","end":"2025-07-01","l":10,"h":80}]},
"mark":{"type":"rect","filled":false,"stroke":"black","strokeWidth":2},
"encoding":{
"x":{"field":"start","type":"temporal","title":null,"scale":{"type":"utc"}},"x2":{"field":"end"},
"y":{"field":"l","type":"quantitative","title":"Latitude"},"y2":{"field":"h"}
}}
]},
{"width":15,"height":307,
"layer":[
{"data":{"values":[
{"lo":-8.5,"hi":-8.4,"v":-8.45},{"lo":-8.4,"hi":-8.3,"v":-8.35},{"lo":-8.3,"hi":-8.2,"v":-8.25},{"lo":-8.2,"hi":-8.1,"v":-8.15},{"lo":-8.1,"hi":-8.0,"v":-8.05},{"lo":-8.0,"hi":-7.9,"v":-7.95},{"lo":-7.9,"hi":-7.8,"v":-7.85},{"lo":-7.8,"hi":-7.7,"v":-7.75},{"lo":-7.7,"hi":-7.6,"v":-7.65},{"lo":-7.6,"hi":-7.5,"v":-7.55},{"lo":-7.5,"hi":-7.4,"v":-7.45},{"lo":-7.4,"hi":-7.3,"v":-7.35}
]},
"mark":{"type":"rect"},
"encoding":{
"y":{"field":"lo","type":"quantitative","scale":{"domain":[-8.5587,-7.243],"nice":false},"title":"Average APB (m-1 sr-1)",
"axis":{"orient":"right","values":[-8.5,-8.3,-8.1,-7.9,-7.7,-7.5,-7.3],"format":".1f","grid":false,"domain":false,"labelPadding":12,"titlePadding":8,"titleAngle":270,"titleBaseline":"top"}},
"y2":{"field":"hi"},
"color":{"field":"v","type":"quantitative","legend":null,"scale":{"type":"threshold","domain":[-8.5,-8.4,-8.3,-8.2,-8.1,-8.0,-7.9,-7.8,-7.7,-7.6,-7.5,-7.4,-7.3],"range":["#30123b","#3d3080","#4668dc","#38a3fd","#19d0d2","#2ff598","#78fe50","#bef334","#eecf3a","#fd9d2e","#f55f14","#cc2f04","#9b1501","#7a0403"]}}
}},
{"data":{"values":[{"lo":-8.5,"hi":-7.3}]},
"mark":{"type":"rect","filled":false,"stroke":"black","strokeWidth":2},
"encoding":{"y":{"field":"lo","type":"quantitative","title":"Average APB (m-1 sr-1)"},"y2":{"field":"hi"}}},
{"data":{"values":[{"p":-7.2687,"v":-7.25,"s":"top"},{"p":-8.53,"v":-8.55,"s":"bottom"}]},
"mark":{"type":"point","filled":true,"opacity":1,"stroke":"black","strokeWidth":2,"size":225},
"encoding":{"y":{"field":"p","type":"quantitative","title":"Average APB (m-1 sr-1)"},
"color":{"field":"v","type":"quantitative","legend":null,"scale":{"type":"threshold","domain":[-8.5,-8.4,-8.3,-8.2,-8.1,-8.0,-7.9,-7.8,-7.7,-7.6,-7.5,-7.4,-7.3],"range":["#30123b","#3d3080","#4668dc","#38a3fd","#19d0d2","#2ff598","#78fe50","#bef334","#eecf3a","#fd9d2e","#f55f14","#cc2f04","#9b1501","#7a0403"]}},
"shape":{"field":"s","type":"nominal","legend":null,"scale":{"domain":["top","bottom"],"range":["M-1,1L0,-1L1,1Z","M-1,-1L0,1L1,-1Z"]}}}}
]}
]}
